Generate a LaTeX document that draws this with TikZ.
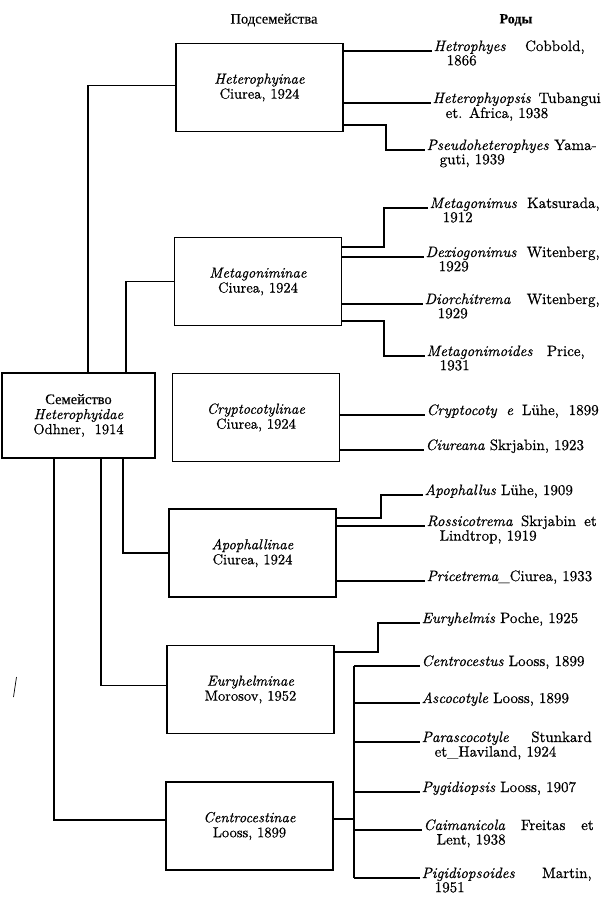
\documentclass[tikz,border=0pt]{standalone}
\usepackage{fontspec}
\setmainfont{lmroman10-regular.otf}[ItalicFont=lmroman10-italic.otf, BoldFont=lmroman10-bold.otf, BoldItalicFont=lmroman10-bolditalic.otf, FakeBold=0.6]
\newfontfamily\cyrfont{Liberation Serif}[FakeBold=0.4]
\newcommand{\myjust}[2]{\makebox[#1pt][s]{#2}}
\newcommand{\mytwo}[3]{\begin{tabular}[t]{@{}l@{}}\makebox[#1pt][s]{#2}\\\hspace*{13pt}#3\end{tabular}}
\begin{document}
\begin{tikzpicture}[x=1pt,y=-1pt,
  sub/.style={draw, line width=1.7pt, minimum width=167pt, minimum height=88pt, align=center, inner sep=0pt, font=\fontsize{14.5}{15}\selectfont},
  gen/.style={anchor=base west, inner xsep=1.5pt, inner ysep=0pt, font=\fontsize{15}{14}\selectfont},
  conn/.style={line width=1.3pt},
  tree/.style={line width=1.2pt},
  hdr/.style={font=\fontsize{14.5}{15}\selectfont\cyrfont}]
\useasboundingbox (0,0) rectangle (600,904);

% headers
\node[hdr] (hsub) at (274,20) {Подсемейства};
\node[hdr, font=\fontsize{14}{15}\selectfont\cyrfont\bfseries] (hgen) at (516,20) {Роды};

% family box
\node[sub, minimum width=153pt, minimum height=85pt] (fam) at (78.5,415.5) {{\cyrfont Семейство}\\\textit{Heterophyidae}\\Odhner,\ \ 1914};

% subfamily boxes
\node[sub] (h)  at (259.5,87.5) {\textit{Heterophyinae}\\Ciurea, 1924};
\node[sub] (m)  at (258,281.5)  {\textit{Metagoniminae}\\Ciurea, 1924};
\node[sub] (c)  at (256,417.5)  {\textit{Cryptocotylinae}\\Ciurea, 1924};
\node[sub] (a)  at (252.5,553)  {\textit{Apophallinae}\\Ciurea, 1924};
\node[sub] (e)  at (250.5,689.5){\textit{Euryhelminae}\\Morosov, 1952};
\node[sub] (ce) at (249.5,826)  {\textit{Centrocestinae}\\Looss, 1899};

% tree on the left
\coordinate (t1) at (88,373);
\coordinate (t2) at (126,373);
\coordinate (t3) at (123,458);
\coordinate (t4) at (101,458);
\coordinate (t5) at (54,458);
\draw[tree] ([yshift=2pt]h.west) -| (t1);
\draw[tree] (m.west) -| (t2);
\draw[tree] (a.west) -| (t3);
\draw[tree] ([yshift=4pt]e.west) -| (t4);
\draw[tree] ([yshift=6pt]ce.west) -| (t5);

% genera
\node[gen] (g1) at (432,51)  {\mytwo{151}{\textit{Hetrophyes} Cobbold,}{1866}};
\node[gen] (g2) at (431,103) {\mytwo{168}{\textit{Heterophyopsis} Tubangui}{et. Africa, 1938}};
\node[gen] (g3) at (425,150) {\mytwo{170}{\textit{Pseudoheterophyes} Yama-}{guti, 1939}};

\node[gen] (g4) at (428,208) {\mytwo{170}{\textit{Metagonimus} Katsurada,}{1912}};
\node[gen] (g5) at (424,257) {\mytwo{174}{\textit{Dexiogonimus} Witenberg,}{1929}};
\node[gen] (g6) at (423,304) {\mytwo{175}{\textit{Diorchitrema} Witenberg,}{1929}};
\node[gen] (g7) at (425,356) {\mytwo{158}{\textit{Metagonimoides} Price,}{1931}};

\node[gen] (g8) at (425,415) {\myjust{172}{\textit{Cryptocoty e} Lühe, 1899}};
\node[gen] (g9) at (424,450) {\textit{Ciureana} Skrjabin, 1923};

\node[gen] (g10) at (423,495) {\textit{Apophallus} Lühe, 1909};
\node[gen] (g11) at (425,526) {\mytwo{170}{\textit{Rossicotrema} Skrjabin et}{Lindtrop, 1919}};
\node[gen] (g12) at (425,581) {\textit{Pricetrema}\_Ciurea, 1933};

\node[gen] (g13) at (420,623) {\textit{Euryhelmis} Poche, 1925};

\node[gen] (g14) at (420,666) {\textit{Centrocestus} Looss, 1899};
\node[gen] (g15) at (420,703) {\textit{Ascocotyle} Looss, 1899};
\node[gen] (g16) at (420,742) {\mytwo{170}{\textit{Parascocotyle} Stunkard}{et\_Haviland, 1924}};
\node[gen] (g17) at (420,792) {\textit{Pygidiopsis} Looss, 1907};
\node[gen] (g18) at (422,830) {\mytwo{170}{\textit{Caimanicola} Freitas et}{Lent, 1938}};
\node[gen] (g19) at (420,878) {\mytwo{170}{\textit{Pigidiopsoides} Martin,}{1951}};

% connectors: Heterophyinae
\coordinate (k3) at (386,125);
\draw[conn] (h.east |- g1.base west) -- (g1.base west);
\draw[conn] (h.east |- g2.base west) -- (g2.base west);
\draw[conn] (h.east |- k3) -- (k3) |- (g3.base west);

% Metagoniminae
\coordinate (k4) at (384,247);
\coordinate (k7) at (384,321);
\draw[conn] (m.east |- k4) -- (k4) |- (g4.base west);
\draw[conn] (m.east |- g5.base west) -- (g5.base west);
\draw[conn] (m.east |- g6.base west) -- (g6.base west);
\draw[conn] (m.east |- k7) -- (k7) |- (g7.base west);

% Cryptocotylinae
\draw[conn] (c.east |- g8.base west) -- (g8.base west);
\draw[conn] (c.east |- g9.base west) -- (g9.base west);

% Apophallinae
\coordinate (k10) at (381,518);
\draw[conn] (a.east |- k10) -- (k10) |- (g10.base west);
\draw[conn] (a.east |- g11.base west) -- (g11.base west);
\draw[conn] (a.east |- g12.base west) -- (g12.base west);

% Euryhelminae
\coordinate (k13) at (378,652);
\draw[conn] (e.east |- k13) -- (k13) |- (g13.base west);

% Centrocestinae
\coordinate (b1) at (354,666);
\coordinate (b2) at (354,878);
\coordinate (k19) at (354,819);
\draw[conn] (ce.east |- k19) -- (k19);
\draw[conn] (b1) -- (b2);
\draw[conn] (b1) -- (g14.base west);
\draw[conn] (b1 |- g15.base west) -- (g15.base west);
\draw[conn] (b1 |- g16.base west) -- (g16.base west);
\draw[conn] (b1 |- g17.base west) -- (g17.base west);
\draw[conn] (b1 |- g18.base west) -- (g18.base west);
\draw[conn] (b2) -- (g19.base west);

% stray mark
\draw[line width=0.7pt] (16.5,677) -- (13.5,697);
\end{tikzpicture}
\end{document}
